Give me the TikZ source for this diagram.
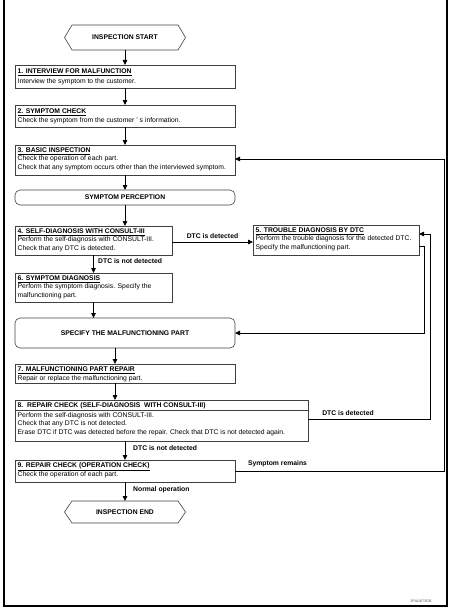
\documentclass[tikz,border=0pt]{standalone}
\usepackage{fontspec}
\setmainfont{Liberation Sans}
\usetikzlibrary{arrows.meta}
\begin{document}
\begin{tikzpicture}[x=1pt,y=-1pt,
  box/.style={draw=black!75,line width=0.6pt,anchor=north west,inner sep=0pt,outer sep=0pt},
  rbox/.style={box,rounded corners=5pt,font=\fontsize{6.8}{8}\selectfont\bfseries},
  hexbox/.style={inner sep=0pt,outer sep=0pt,minimum width=121pt,font=\fontsize{6.8}{8}\selectfont\bfseries},
  hexline/.style={draw=black!75,line width=0.6pt},
  txt/.style={anchor=north west,inner sep=0pt,align=left,font=\fontsize{6.8}{8.5}\selectfont},
  lbl/.style={inner sep=0pt,font=\fontsize{6.8}{8}\selectfont\bfseries},
  conn/.style={line width=0.8pt,-{Triangle[length=5pt,width=4.5pt]}},
  plainconn/.style={line width=0.8pt}]
\useasboundingbox (0,0) rectangle (451,610);
% frame
\draw[line width=1.2pt] (4,0) -- (4,606) -- (447,606) -- (447,0);
\node[inner sep=0pt,font=\fontsize{3.6}{4}\selectfont,text=black!70] (code) at (421,601) {JPIA1673GB};

% start
\node[hexbox,minimum height=25pt] (start) at (125,37.5) {INSPECTION START};
\draw[hexline] (start.west) -- ([xshift=7.5pt]start.north west) -- ([xshift=-7.5pt]start.north east) -- (start.east) -- ([xshift=-7.5pt]start.south east) -- ([xshift=7.5pt]start.south west) -- cycle;

% boxes
\node[box,minimum width=220pt,minimum height=23pt] (b1) at (15,65) {};
\node[txt] (t1) at ([xshift=2.5pt,yshift=-4pt]b1.north west) {\underline{\textbf{1. INTERVIEW FOR MALFUNCTION}}\\[0.8pt]Interview the symptom to the customer.};

\node[box,minimum width=220pt,minimum height=22pt] (b2) at (15,105) {};
\node[txt] (t2) at ([xshift=2.5pt,yshift=-3.5pt]b2.north west) {\underline{\textbf{2. SYMPTOM CHECK}}\\[0.8pt]Check the symptom from the customer ' s information.};

\node[box,minimum width=220pt,minimum height=30pt] (b3) at (15,145) {};
\node[txt] (t3) at ([xshift=2.5pt,yshift=-2.5pt]b3.north west) {\underline{\textbf{3. BASIC INSPECTION}}\\Check the operation of each part.\\Check that any symptom occurs other than the interviewed symptom.};

\node[rbox,minimum width=220pt,minimum height=15pt] (sp) at (15,190) {SYMPTOM PERCEPTION};

\node[box,minimum width=157pt,minimum height=29pt] (b4) at (15,226) {};
\node[txt] (t4) at ([xshift=2.5pt,yshift=-2.5pt]b4.north west) {\underline{\textbf{4. SELF-DIAGNOSIS WITH CONSULT-III}}\\Perform the self-diagnosis with CONSULT-III.\\Check that any DTC is detected.};

\node[box,minimum width=166pt,minimum height=30pt] (b5) at (253,225) {};
\node[txt] (t5) at ([xshift=2.5pt,yshift=-2.5pt]b5.north west) {\underline{\textbf{5. TROUBLE DIAGNOSIS BY DTC}}\\Perform the trouble diagnosis for the detected DTC.\\Specify the malfunctioning part.};

\node[box,minimum width=157pt,minimum height=29pt] (b6) at (15,273) {};
\node[txt] (t6) at ([xshift=2.5pt,yshift=-2.5pt]b6.north west) {\underline{\textbf{6. SYMPTOM DIAGNOSIS}}\\Perform the symptom diagnosis. Specify the\\malfunctioning part.};

\node[rbox,minimum width=220pt,minimum height=30pt] (spec) at (15,318) {SPECIFY THE MALFUNCTIONING PART};

\node[box,minimum width=220pt,minimum height=19pt] (b7) at (15,364) {};
\node[txt] (t7) at ([xshift=2.5pt,yshift=-2.5pt]b7.north west) {\underline{\textbf{7. MALFUNCTIONING PART REPAIR}}\\[0.3pt]Repair or replace the malfunctioning part.};

\node[box,minimum width=293pt,minimum height=41pt] (b8) at (15,400) {};
\draw[draw=black!75,line width=0.6pt] ([yshift=-10pt]b8.north west) -- ([yshift=-10pt]b8.north east);
\node[txt] (t8) at ([xshift=2.5pt,yshift=-2.5pt]b8.north west) {\textbf{8.\ \ REPAIR CHECK (SELF-DIAGNOSIS\ \ WITH CONSULT-III)}\\[1.2pt]Perform the self-diagnosis with CONSULT-III.\\Check that any DTC is not detected.\\Erase DTC if DTC was detected before the repair. Check that DTC is not detected again.};

\node[box,minimum width=220pt,minimum height=22pt] (b9) at (15,460) {};
\node[txt] (t9) at ([xshift=2.5pt,yshift=-2.5pt]b9.north west) {\underline{\textbf{9. REPAIR CHECK (OPERATION CHECK)}}\\[0.8pt]Check the operation of each part.};

% end
\node[hexbox,minimum height=22pt] (end) at (125,512) {INSPECTION END};
\draw[hexline] (end.west) -- ([xshift=7.5pt]end.north west) -- ([xshift=-7.5pt]end.north east) -- (end.east) -- ([xshift=-7.5pt]end.south east) -- ([xshift=7.5pt]end.south west) -- cycle;

% connectors
\draw[conn] (start.south) -- (b1.north);
\draw[conn] (b1.south) -- (b2.north);
\draw[conn] (b2.south) -- (b3.north);
\draw[conn] (b3.south) -- (sp.north);
\draw[conn] (sp.south) -- (sp.south |- b4.north);
\draw[conn] ([yshift=-1.5pt]b4.east) -- node[lbl,above=3pt] (l1) {DTC is detected} ([yshift=-1.5pt]b4.east -| b5.west);
\draw[conn] (b4.south) -- (b6.north);
\node[lbl,anchor=west] (l2) at (98,261) {DTC is not detected};
\draw[conn] (b6.south) -- (b6.south |- spec.north);
\draw[conn] ([yshift=-6pt]b5.east) -- ([xshift=5pt,yshift=-6pt]b5.east) |- (spec.east);
\draw[conn] ([xshift=-10pt]spec.south) -- ([xshift=-10pt]b7.north);
\draw[conn] ([xshift=-10pt]b7.south) -- ([xshift=-10pt]b7.south |- b8.north);
\draw[conn] ([yshift=1.5pt]b8.east) -| ([xshift=11pt,yshift=6pt]b5.east) -- ([yshift=6pt]b5.east);
\node[lbl] (l3) at (348,413) {DTC is detected};
\draw[conn] (b9.north |- b8.south) -- (b9.north);
\node[lbl,anchor=west] (l4) at (133,448) {DTC is not detected};
\draw[conn] (b9.east) -| ([xshift=209pt,yshift=1pt]b3.east) -- ([yshift=1pt]b3.east);
\node[lbl] (l5) at (277.5,464) {Symptom remains};
\draw[conn] (b9.south) -- (end.north);
\node[lbl,anchor=west] (l6) at (133,490) {Normal operation};
\end{tikzpicture}
\end{document}
